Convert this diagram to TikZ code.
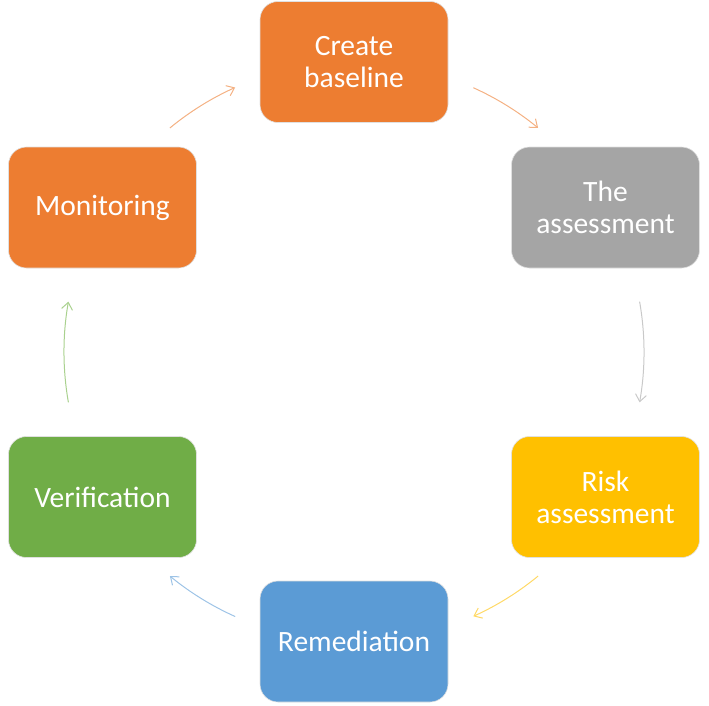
\documentclass[tikz,border=0pt]{standalone}
\usepackage{fontspec}
\setmainfont{Carlito}
\usetikzlibrary{arrows.meta}

\definecolor{boxorange}{HTML}{ED7D31}
\definecolor{boxgray}{HTML}{A5A5A5}
\definecolor{boxyellow}{HTML}{FFC000}
\definecolor{boxblue}{HTML}{5B9BD5}
\definecolor{boxgreen}{HTML}{70AD47}
\definecolor{lineorange}{HTML}{F4B183}
\definecolor{linegray}{HTML}{C9C9C9}
\definecolor{lineyellow}{HTML}{FFD966}
\definecolor{lineblue}{HTML}{9DC3E6}
\definecolor{linegreen}{HTML}{A9D18E}

\begin{document}
\begin{tikzpicture}[x=1pt, y=1pt,
    stepbox/.style={draw=black!12, line width=0.6pt, rounded corners=18pt,
        minimum width=188pt, minimum height=121pt, inner sep=0pt,
        text=white, align=center, font=\fontsize{29.5}{32}\selectfont},
    flow/.style={line width=1pt, -{Straight Barb[length=7pt, width=11pt]}}]
    \useasboundingbox (0, 0) rectangle (709, -705);

    \node[stepbox, fill=boxorange] (create) at (354, -62) {Create\\baseline};
    \node[stepbox, fill=boxgray] (assess) at (605.5, -207.5) {The\\assessment};
    \node[stepbox, fill=boxyellow] (risk) at (605.5, -497) {Risk\\assessment};
    \node[stepbox, fill=boxblue] (remedy) at (354, -641.5) {Remediation};
    \node[stepbox, fill=boxgreen] (verify) at (102.5, -497) {Verification};
    \node[stepbox, fill=boxorange] (monitor) at (102.5, -207.5) {Monitoring};

    % arcs on one circle round the middle
    \coordinate (c) at (354, -352);
    \coordinate (a1) at ([shift={(129.4:290)}]c);
    \coordinate (a2) at ([shift={(65.7:290)}]c);
    \coordinate (a3) at ([shift={(10:290)}]c);
    \coordinate (a4) at ([shift={(-50.6:290)}]c);
    \coordinate (a5) at ([shift={(-114.2:290)}]c);
    \coordinate (a6) at ([shift={(-170:290)}]c);

    \draw[flow, lineorange] (a1) arc[start angle=129.4, end angle=114.2, radius=290];
    \draw[flow, lineorange] (a2) arc[start angle=65.7, end angle=50.6, radius=290];
    \draw[flow, linegray] (a3) arc[start angle=10, end angle=-10, radius=290];
    \draw[flow, lineyellow] (a4) arc[start angle=-50.6, end angle=-65.7, radius=290];
    \draw[flow, lineblue] (a5) arc[start angle=-114.2, end angle=-129.4, radius=290];
    \draw[flow, linegreen] (a6) arc[start angle=-170, end angle=-190, radius=290];

\end{tikzpicture}
\end{document}
